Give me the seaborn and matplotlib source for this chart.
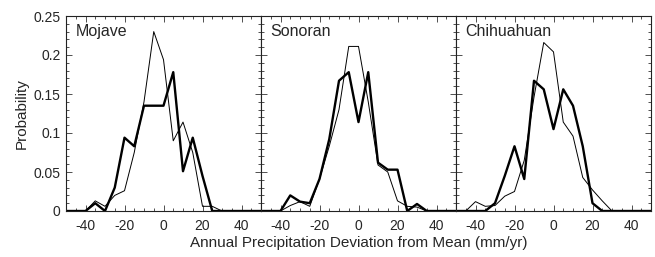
import numpy as np
import pandas as pd
import matplotlib
matplotlib.use("Agg")
import matplotlib.pyplot as plt
from matplotlib.ticker import MultipleLocator
import seaborn as sns

sns.set_style("ticks")
plt.rcParams['font.family'] = ['Liberation Sans', 'DejaVu Sans']
plt.rcParams['axes.unicode_minus'] = False

deviation = [-50, -45, -40, -35, -30, -25, -20, -15, -10, -5, 0, 5, 10,
             15, 20, 25, 30, 35, 40, 45, 50]

regions = ["Mojave", "Sonoran", "Chihuahuan"]

x_ticks = [-40, -20, 0, 20, 40]
x_ticklabels = ["-40", "-20", "0", "20", "40"]
y_ticks = [0, 0.05, 0.1, 0.15, 0.2, 0.25]
y_ticklabels = ["0", "0.05", "0.1", "0.15", "0.2", "0.25"]

mojave_thick = [0, 0, 0, 0.010, 0, 0.030, 0.094, 0.083, 0.135, 0.135, 0.135,
                0.178, 0.051, 0.094, 0.045, 0, 0, 0, 0, 0, 0]
mojave_thin = [0, 0, 0, 0.013, 0.006, 0.020, 0.026, 0.075, 0.140, 0.230, 0.194,
               0.090, 0.114, 0.075, 0.006, 0.006, 0, 0, 0, 0, 0]

sonoran_thick = [0, 0, 0, 0.020, 0.012, 0.010, 0.041, 0.092, 0.167, 0.178, 0.114,
                 0.178, 0.062, 0.053, 0.053, 0, 0.009, 0, 0, 0, 0]
sonoran_thin = [0, 0, 0, 0.007, 0.012, 0.006, 0.041, 0.083, 0.130, 0.211, 0.211,
                0.140, 0.059, 0.050, 0.013, 0.006, 0.005, 0, 0, 0, 0]

chihuahuan_thick = [0, 0, 0, 0, 0.010, 0.045, 0.083, 0.041, 0.167, 0.156, 0.105,
                    0.156, 0.135, 0.083, 0.010, 0, 0, 0, 0, 0, 0]
chihuahuan_thin = [0, 0, 0.012, 0.006, 0.007, 0.019, 0.025, 0.065, 0.146, 0.216, 0.204,
                   0.114, 0.096, 0.043, 0.027, 0.013, 0, 0, 0, 0, 0]

series = {
    "Mojave": (mojave_thick, mojave_thin),
    "Sonoran": (sonoran_thick, sonoran_thin),
    "Chihuahuan": (chihuahuan_thick, chihuahuan_thin),
}

rows = []
for reg in regions:
    thick, thin = series[reg]
    for x, a, b in zip(deviation, thick, thin):
        rows.append({"region": reg, "dev": x, "prob": a, "kind": "thick"})
        rows.append({"region": reg, "dev": x, "prob": b, "kind": "thin"})
df = pd.DataFrame(rows)

fig = plt.figure(figsize=(6.55, 2.57), dpi=100)
W, H = 655, 257
left_px, top_px, bottom_px, pw = 66, 16, 211, 195
for i, reg in enumerate(regions):
    ax = fig.add_axes([(left_px + i * pw) / W, 1 - bottom_px / H, pw / W,
                       (bottom_px - top_px) / H])
    sub = df[df.region == reg]
    sns.lineplot(data=sub[sub.kind == "thin"], x="dev", y="prob", ax=ax,
                 color="black", linewidth=0.7, estimator=None, sort=False)
    sns.lineplot(data=sub[sub.kind == "thick"], x="dev", y="prob", ax=ax,
                 color="black", linewidth=1.7, estimator=None, sort=False)
    ax.set_xlim(-50, 50)
    ax.set_ylim(0, 0.25)
    ax.set_xticks(x_ticks)
    ax.set_xticklabels(x_ticklabels)
    ax.xaxis.set_minor_locator(MultipleLocator(5))
    ax.set_yticks(y_ticks)
    ax.yaxis.set_minor_locator(MultipleLocator(0.01))
    if i == 0:
        ax.set_yticklabels(y_ticklabels)
    else:
        ax.set_yticklabels([])
    ax.tick_params(which="both", direction="in", top=True, right=True,
                   labelsize=10, width=0.6, color="#333333")
    ax.tick_params(which="major", length=4)
    ax.tick_params(which="minor", length=2)
    ax.tick_params(axis="x", pad=6)
    ax.tick_params(axis="y", pad=4)
    for s in ax.spines.values():
        s.set_linewidth(0.8)
        s.set_color("#222222")
    ax.set_xlabel("")
    ax.set_ylabel("")
    ax.text(0.05, 0.96, reg, transform=ax.transAxes, fontsize=11.5,
            va="top", ha="left")
    if i == 0:
        ax.set_ylabel("Probability", fontsize=11, labelpad=3)

fig.text((left_px + 1.5 * pw) / W, 1 - 243 / H,
         "Annual Precipitation Deviation from Mean (mm/yr)",
         ha="center", va="center", fontsize=11)

fig.savefig("out.png", dpi=100)
